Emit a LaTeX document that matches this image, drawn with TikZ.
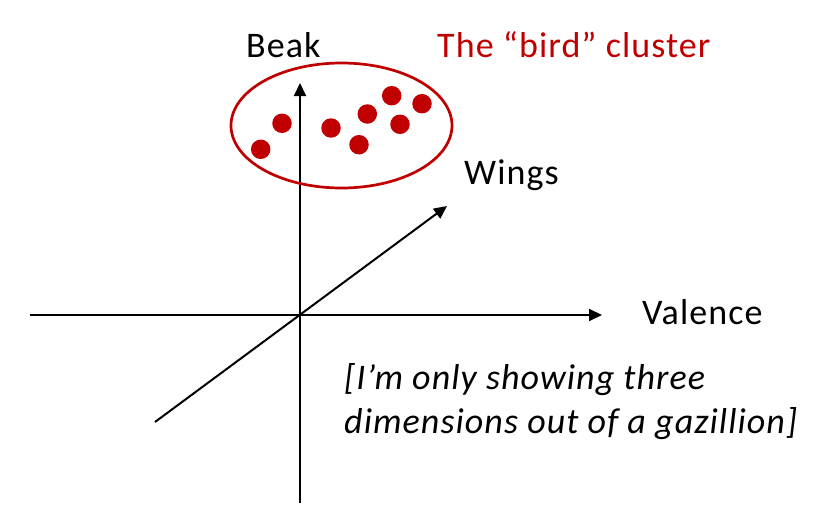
\documentclass[tikz,border=0pt]{standalone}
\usepackage{fontspec}
\setmainfont{Carlito}[LetterSpace=3]
\usetikzlibrary{arrows.meta,shapes.geometric}
\definecolor{birdred}{HTML}{C00000}
\tikzset{
  axis/.style={line width=2pt,-{Triangle[length=13pt,width=12pt]}},
  lbl/.style={anchor=base west,inner sep=0pt,font=\fontsize{36}{42}\selectfont},
  dot/.style={circle,fill=birdred,minimum size=19.5pt,inner sep=0pt},
}
\begin{document}
\begin{tikzpicture}[x=1pt,y=-1pt]
\useasboundingbox (0,0) rectangle (827,519);
% axes
\coordinate (vb) at (300,503);
\coordinate (vt) at (300,83);
\coordinate (hl) at (30,315);
\coordinate (hr) at (602,315);
\coordinate (dl) at (155,422);
\coordinate (dr) at (447,206);
\draw[axis] (vb) -- (vt);
\draw[axis] (hl) -- (hr);
\draw[axis] (dl) -- (dr);
% cluster
\node[ellipse,draw=birdred,line width=2.7pt,minimum width=221pt,minimum height=125pt,inner sep=0pt] (cluster) at (341.5,125.5) {};
\node[dot] (p1) at (260.7,149.3) {};
\node[dot] (p2) at (282,123.3) {};
\node[dot] (p3) at (331,128) {};
\node[dot] (p4) at (359,144.7) {};
\node[dot] (p5) at (367.3,114) {};
\node[dot] (p6) at (391.7,95.7) {};
\node[dot] (p7) at (400,124.3) {};
\node[dot] (p8) at (422,103.7) {};
% labels
\node[lbl] (beak) at (246,58) {Beak};
\node[lbl,text=birdred] (title) at (437,58) {The “bird” cluster};
\node[lbl] (wings) at (464,184) {Wings};
\node[lbl] (valence) at (642,324) {Valence};
\node[lbl,font=\fontsize{36}{42}\selectfont\itshape] (note1) at (344,389) {[I’m only showing three};
\node[lbl,font=\fontsize{36}{42}\selectfont\itshape] (note2) at (344,433) {dimensions out of a gazillion]};
\end{tikzpicture}
\end{document}
